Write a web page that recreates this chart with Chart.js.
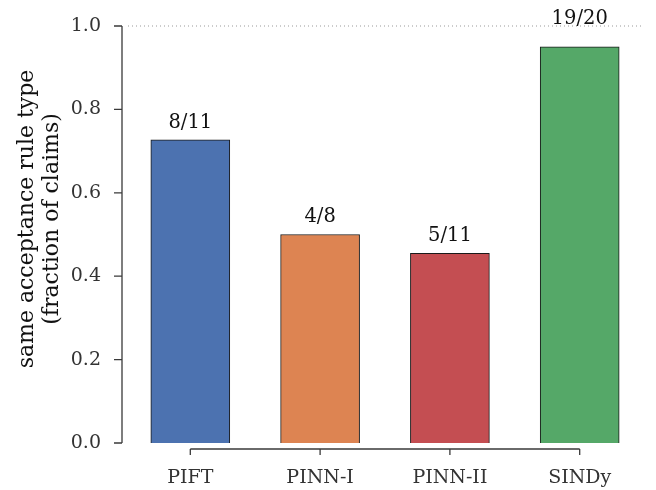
<!DOCTYPE html>
<html>
<head>
<meta charset="utf-8">
<script src="https://cdn.jsdelivr.net/npm/chart.js@4/dist/chart.umd.min.js"></script>
<style>
  body { margin: 0; background: #fff; }
  canvas { display: block; }
</style>
</head>
<body>
<canvas id="acceptanceChart" width="656" height="490"></canvas>
<script>
const methods = ["PIFT", "PINN-I", "PINN-II", "SINDy"];
const fractions = [0.727, 0.5, 0.455, 0.95];
const countLabels = ["8/11", "4/8", "5/11", "19/20"];
const barColors = ["#4c72b0", "#dd8452", "#c44e52", "#55a868"];
const yTicks = [0, 0.2, 0.4, 0.6, 0.8, 1.0];
const yTitle = ["same acceptance rule type", "(fraction of claims)"];

const FONT = "'DejaVu Serif', serif";
const TEXT = "#333333";
const SPINE = "#3a3a3a";

// spines are offset from the plot like seaborn despine(offset=6, trim=True)
const spines = {
  id: "spines",
  afterDraw(chart) {
    const { ctx, chartArea, scales } = chart;
    const x = scales.x, y = scales.y;
    ctx.save();
    ctx.strokeStyle = SPINE;
    ctx.lineWidth = 1.3;
    const lx = chartArea.left - 6;
    ctx.beginPath();
    ctx.moveTo(lx, y.getPixelForValue(0));
    ctx.lineTo(lx, y.getPixelForValue(1));
    yTicks.forEach(v => {
      const py = y.getPixelForValue(v);
      ctx.moveTo(lx, py);
      ctx.lineTo(lx - 8, py);
    });
    const by = chartArea.bottom + 6;
    ctx.moveTo(x.getPixelForValue(0), by);
    ctx.lineTo(x.getPixelForValue(methods.length - 1), by);
    methods.forEach((m, i) => {
      const px = x.getPixelForValue(i);
      ctx.moveTo(px, by);
      ctx.lineTo(px, by + 6);
    });
    ctx.stroke();

    // reference line at 1.0
    ctx.strokeStyle = "#999999";
    ctx.lineWidth = 1;
    ctx.setLineDash([1, 3]);
    ctx.beginPath();
    const ry = y.getPixelForValue(1);
    ctx.moveTo(chartArea.left, ry);
    ctx.lineTo(chartArea.right, ry);
    ctx.stroke();
    ctx.setLineDash([]);

    // count labels above bars; a label that would hit the 1.0 line sits on top of it
    ctx.fillStyle = "#111111";
    ctx.font = "19.5px " + FONT;
    ctx.textAlign = "center";
    ctx.textBaseline = "alphabetic";
    fractions.forEach((v, i) => {
      let ly = y.getPixelForValue(v + 0.02) - 4;
      if (ly - 14 < ry) ly = ry - 2;
      ctx.fillText(countLabels[i], x.getPixelForValue(i), ly);
    });

    // y axis title, two lines
    ctx.font = "22px " + FONT;
    [33, 58].forEach((bx, i) => {
      ctx.save();
      ctx.translate(bx, 219);
      ctx.rotate(-Math.PI / 2);
      ctx.fillText(yTitle[i], 0, 0);
      ctx.restore();
    });
    ctx.restore();
  }
};

new Chart(document.getElementById("acceptanceChart"), {
  type: "bar",
  data: {
    datasets: [{
      data: fractions.map((v, i) => ({ x: i, y: v })),
      backgroundColor: barColors,
      borderColor: "#1a1a1a",
      borderWidth: 1,
      barThickness: 79
    }]
  },
  options: {
    responsive: false,
    animation: false,
    layout: { padding: { top: 26, right: 14, left: 0, bottom: 0 } },
    plugins: { legend: { display: false }, tooltip: { enabled: false } },
    scales: {
      x: {
        type: "linear",
        offset: false,
        min: -0.48,
        max: 3.48,
        afterBuildTicks: s => { s.ticks = methods.map((m, i) => ({ value: i })); },
        afterFit: s => { s.height = 47; s.paddingLeft = 0; s.paddingRight = 0; },
        grid: { display: false, drawTicks: false },
        border: { display: false },
        ticks: {
          callback: v => methods[v],
          font: { family: FONT, size: 19 },
          color: TEXT,
          padding: 24,
          maxRotation: 0
        }
      },
      y: {
        min: 0,
        max: 1,
        afterBuildTicks: s => { s.ticks = yTicks.map(v => ({ value: v })); },
        afterFit: s => { s.width = 128; s.paddingTop = 0; s.paddingBottom = 0; },
        grid: { display: false, drawTicks: false },
        border: { display: false },
        ticks: {
          callback: v => v.toFixed(1),
          font: { family: FONT, size: 19 },
          color: TEXT,
          padding: 27
        }
      }
    }
  },
  plugins: [spines]
});
</script>
</body>
</html>
